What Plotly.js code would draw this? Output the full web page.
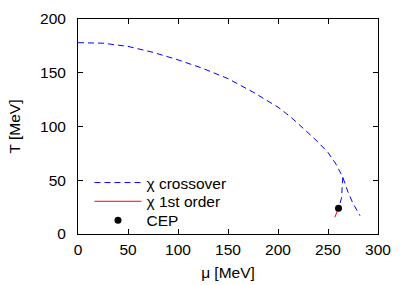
<!DOCTYPE html>
<html><head><meta charset="utf-8">
<script src="https://cdn.plot.ly/plotly-3.0.1.min.js"></script>
<style>html,body{margin:0;padding:0;background:#fff}#c{width:407px;height:285px}</style>
</head><body><div id="c"></div>
<script>
// crossover line (upper curve + right branch), then left branch down to CEP
const crossMu = [0,25,50,75,100,125,150,175,200,212.5,225,240,250,258,264.8,270,275,282];
const crossT  = [178,177.5,174.5,169,162,154,144.5,132,118,109,98.5,85.5,75.8,65,52.8,39,28.5,17];
const crossBranchMu = [264.8,263.5,260.5];
const crossBranchT  = [52.8,33.3,24];
const firstMu = [260.5,256.8];
const firstT  = [24,15.5];
const cepMu = [260.5];
const cepT  = [24];
const xTicks = [0,50,100,150,200,250,300];
const yTicks = [0,50,100,150,200];

const font = {family:'Liberation Sans, Arial, sans-serif', size:15.5, color:'#000'};
const traces = [
  {x: crossMu.concat([null], crossBranchMu), y: crossT.concat([null], crossBranchT),
   mode:'lines', name:'χ crossover', connectgaps:false, legend:'legend',
   line:{color:'#0000ff', width:1, dash:'6px,4px'}},
  {x: firstMu, y: firstT, mode:'lines', name:'χ 1st order', legend:'legend2',
   line:{color:'#ff0000', width:1}},
  {x: cepMu, y: cepT, mode:'markers', name:'CEP', legend:'legend3',
   marker:{color:'#000', size:7}}
];
const axisCommon = {showgrid:false, zeroline:false, showline:true, linecolor:'#000', linewidth:1,
  mirror:'ticks', ticks:'inside', ticklen:5, tickcolor:'#000', tickfont:font};
function lg(rowPx){
  return {x:(89-77.5)/300.5, y:(234-rowPx)/215, xanchor:'left', yanchor:'middle',
    bgcolor:'rgba(0,0,0,0)', font:font, itemwidth:47, borderwidth:0};
}
const layout = {
  width:407, height:285, margin:{l:77.5, r:29, t:19, b:51},
  paper_bgcolor:'#fff', plot_bgcolor:'#fff', font:font, showlegend:true,
  xaxis: Object.assign({}, axisCommon, {range:[0,300], tickvals:xTicks, ticktext:xTicks.map(String),
    ticklabelstandoff:1, title:{text:'μ [MeV]', font:font, standoff:10}}),
  yaxis: Object.assign({}, axisCommon, {range:[0,200], tickvals:yTicks, ticktext:yTicks.map(String),
    ticklabelstandoff:8, title:{text:'T [MeV]', font:font, standoff:15}}),
  legend: lg(183), legend2: lg(201.7), legend3: lg(220.7)
};
Plotly.newPlot('c', traces, layout, {displayModeBar:false, staticPlot:true});
</script></body></html>
